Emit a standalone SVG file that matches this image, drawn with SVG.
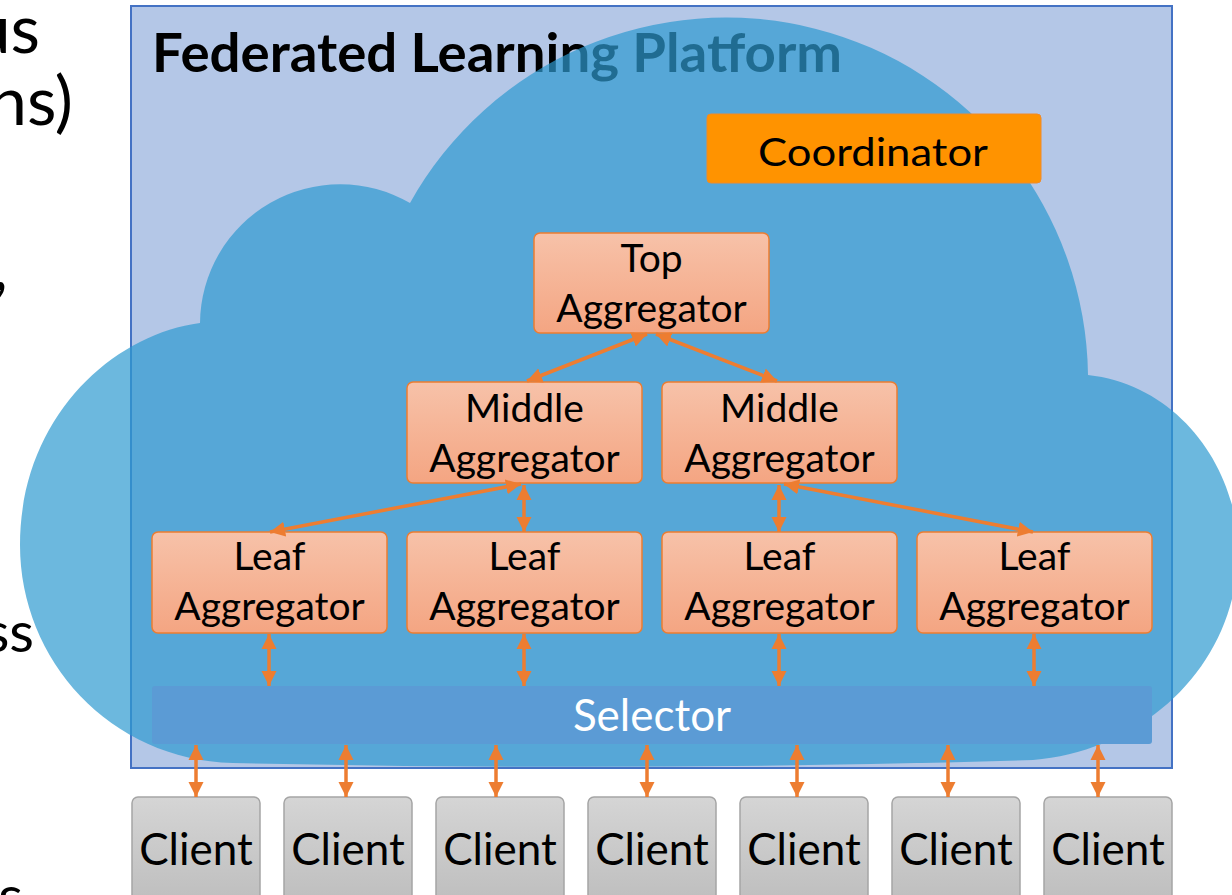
<svg xmlns="http://www.w3.org/2000/svg" width="1232" height="895" viewBox="0 0 1232 895">
<defs>
<linearGradient id="aggGrad" x1="0" y1="0" x2="0" y2="1">
<stop offset="0" stop-color="#F7C2A9"/>
<stop offset="1" stop-color="#F4A582"/>
</linearGradient>
<linearGradient id="cliGrad" x1="0" y1="0" x2="0" y2="1">
<stop offset="0" stop-color="#D5D5D5"/>
<stop offset="1" stop-color="#BDBDBD"/>
</linearGradient>
<marker id="ah" markerUnits="userSpaceOnUse" markerWidth="16" markerHeight="16" viewBox="0 0 16 16" refX="15" refY="8" orient="auto-start-reverse">
<path d="M0,0.5 L15,8 L0,15.5 Z" fill="#ED7D31"/>
</marker>
<style>
.agg{fill:url(#aggGrad);stroke:#ED7D31;stroke-width:1.5}
.cli{fill:url(#cliGrad);stroke:#A5A5A5;stroke-width:1.5}
.lbl{font-family:Lato,"Open Sans","Liberation Sans",sans-serif;font-size:39px;fill:#000;text-anchor:middle}
.cl{font-family:Lato,"Open Sans","Liberation Sans",sans-serif;font-size:44px;fill:#000;text-anchor:middle}
.side{font-family:Lato,"Open Sans","Liberation Sans",sans-serif;fill:#000;text-anchor:end}
.arr{stroke:#ED7D31;stroke-width:3.5;fill:none;marker-start:url(#ah);marker-end:url(#ah)}
</style>
</defs>

<g id="side-text">
<text class="side" x="40" y="53" font-size="68">us</text>
<text class="side" x="73" y="125" font-size="68">ns)</text>
<text class="side" x="8" y="290" font-size="68">,</text>
<text class="side" x="34" y="652" font-size="57">ss</text>
<text class="side" x="23" y="916" font-size="57">s</text>
</g>

<g id="platform">
<rect x="131" y="6" width="1041" height="762" fill="#B4C7E7" stroke="#4472C4" stroke-width="2"/>
<text x="152" y="72" font-family="Lato,'Open Sans','Liberation Sans',sans-serif" font-weight="bold" font-size="53" textLength="690" lengthAdjust="spacingAndGlyphs" fill="#000">Federated Learning Platform</text>
</g>

<g id="cloud">
<path d="M 200 323 A 140 140 0 0 1 410 203 A 362 362 0 0 1 1088 375 C 1180 385 1238 470 1238 550 C 1238 660 1150 750 1033 760 Q 640 772 233 763 C 110 760 20 660 20 545 C 20 420 110 335 200 323 Z" fill="#2D9AD0" fill-opacity="0.7"/>
</g>

<g id="coordinator">
<rect x="707" y="114" width="334" height="69" rx="4" fill="#FF9300" stroke="#F08A28" stroke-width="1"/>
<text class="lbl" x="873" y="166" font-size="45" textLength="230" lengthAdjust="spacingAndGlyphs">Coordinator</text>
</g>

<g id="top-aggregator">
<rect class="agg" x="534" y="233" width="235" height="100" rx="6"/>
<text class="lbl" x="651.5" y="272">Top</text>
<text class="lbl" x="651.5" y="322">Aggregator</text>
</g>

<g id="middle-aggregator-1">
<rect class="agg" x="407" y="382" width="235" height="101" rx="6"/>
<text class="lbl" x="524.5" y="422">Middle</text>
<text class="lbl" x="524.5" y="472">Aggregator</text>
</g>
<g id="middle-aggregator-2">
<rect class="agg" x="662" y="382" width="235" height="101" rx="6"/>
<text class="lbl" x="779.5" y="422">Middle</text>
<text class="lbl" x="779.5" y="472">Aggregator</text>
</g>

<g id="leaf-aggregator-1">
<rect class="agg" x="152" y="532" width="235" height="101" rx="6"/>
<text class="lbl" x="269.5" y="570">Leaf</text>
<text class="lbl" x="269.5" y="620">Aggregator</text>
</g>
<g id="leaf-aggregator-2">
<rect class="agg" x="407" y="532" width="235" height="101" rx="6"/>
<text class="lbl" x="524.5" y="570">Leaf</text>
<text class="lbl" x="524.5" y="620">Aggregator</text>
</g>
<g id="leaf-aggregator-3">
<rect class="agg" x="662" y="532" width="235" height="101" rx="6"/>
<text class="lbl" x="779.5" y="570">Leaf</text>
<text class="lbl" x="779.5" y="620">Aggregator</text>
</g>
<g id="leaf-aggregator-4">
<rect class="agg" x="917" y="532" width="235" height="101" rx="6"/>
<text class="lbl" x="1034.5" y="570">Leaf</text>
<text class="lbl" x="1034.5" y="620">Aggregator</text>
</g>

<g id="selector">
<rect x="152" y="686" width="1000" height="58" rx="3" fill="#5B9BD5"/>
<text x="652" y="731" font-family="Lato,'Open Sans','Liberation Sans',sans-serif" font-size="44" fill="#FFFFFF" text-anchor="middle">Selector</text>
</g>

<g id="clients">
<g id="client-1"><rect class="cli" x="132" y="797" width="128" height="110" rx="6"/><text class="cl" x="196" y="865">Client</text></g>
<g id="client-2"><rect class="cli" x="284" y="797" width="128" height="110" rx="6"/><text class="cl" x="348" y="865">Client</text></g>
<g id="client-3"><rect class="cli" x="436" y="797" width="128" height="110" rx="6"/><text class="cl" x="500" y="865">Client</text></g>
<g id="client-4"><rect class="cli" x="588" y="797" width="128" height="110" rx="6"/><text class="cl" x="652" y="865">Client</text></g>
<g id="client-5"><rect class="cli" x="740" y="797" width="128" height="110" rx="6"/><text class="cl" x="804" y="865">Client</text></g>
<g id="client-6"><rect class="cli" x="892" y="797" width="128" height="110" rx="6"/><text class="cl" x="956" y="865">Client</text></g>
<g id="client-7"><rect class="cli" x="1044" y="797" width="128" height="110" rx="6"/><text class="cl" x="1108" y="865">Client</text></g>
</g>

<g id="connectors">
<line class="arr" x1="647" y1="334" x2="527" y2="381"/>
<line class="arr" x1="656" y1="334" x2="777" y2="381"/>
<line class="arr" x1="521" y1="484" x2="270" y2="532"/>
<line class="arr" x1="524" y1="485" x2="524" y2="532"/>
<line class="arr" x1="779" y1="485" x2="779" y2="532"/>
<line class="arr" x1="784" y1="484" x2="1033" y2="532"/>
<line class="arr" x1="269" y1="634" x2="269" y2="686"/>
<line class="arr" x1="524" y1="634" x2="524" y2="686"/>
<line class="arr" x1="779" y1="634" x2="779" y2="686"/>
<line class="arr" x1="1034" y1="634" x2="1034" y2="686"/>
<line class="arr" x1="196" y1="745" x2="196" y2="797"/>
<line class="arr" x1="346" y1="745" x2="346" y2="797"/>
<line class="arr" x1="496" y1="745" x2="496" y2="797"/>
<line class="arr" x1="647" y1="745" x2="647" y2="797"/>
<line class="arr" x1="797" y1="745" x2="797" y2="797"/>
<line class="arr" x1="948" y1="745" x2="948" y2="797"/>
<line class="arr" x1="1098" y1="745" x2="1098" y2="797"/>
</g>
</svg>
